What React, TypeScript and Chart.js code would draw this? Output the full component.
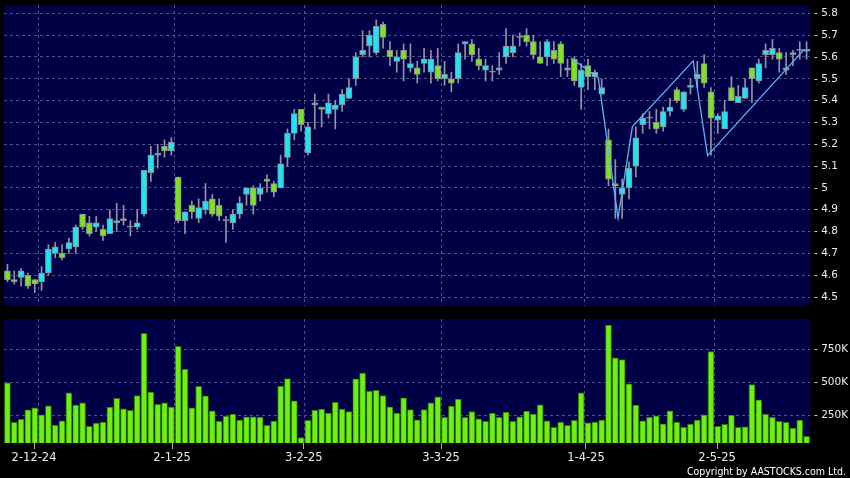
import React, { useEffect, useRef } from 'react';
import { Chart, registerables } from 'chart.js';

Chart.register(...registerables);

// ---- Data (daily candles, 25-11-24 .. 22-5-25) ----
const OPEN = [
  4.62, 4.58, 4.59, 4.60, 4.58, 4.57, 4.61, 4.70, 4.70, 4.72,
  4.73, 4.88, 4.84, 4.82, 4.81, 4.79, 4.84, 4.85, 4.82, 4.82,
  4.88, 5.07, 5.15, 5.19, 5.17, 5.05, 4.85, 4.92, 4.86, 4.90,
  4.95, 4.92, 4.85, 4.84, 4.88, 4.97, 5.00, 4.97, 5.04, 5.02,
  5.00, 5.14, 5.25, 5.36, 5.16, 5.38, 5.37, 5.34, 5.36, 5.38,
  5.41, 5.50, 5.61, 5.65, 5.62, 5.75, 5.63, 5.58, 5.63, 5.55,
  5.55, 5.57, 5.53, 5.56, 5.50, 5.50, 5.50, 5.66, 5.66, 5.59,
  5.54, 5.53, 5.54, 5.60, 5.62, 5.69, 5.70, 5.67, 5.60, 5.60,
  5.63, 5.66, 5.55, 5.59, 5.46, 5.56, 5.51, 5.43, 5.22, 5.02,
  4.97, 5.00, 5.10, 5.29, 5.32, 5.30, 5.28, 5.35, 5.45, 5.36,
  5.46, 5.50, 5.57, 5.44, 5.31, 5.27, 5.46, 5.39, 5.41, 5.55,
  5.49, 5.61, 5.61, 5.62, 5.54, 5.61, 5.63, 5.63,
];
const HIGH = [
  4.65, 4.62, 4.63, 4.61, 4.58, 4.64, 4.74, 4.75, 4.74, 4.77,
  4.83, 4.88, 4.87, 4.87, 4.83, 4.90, 4.93, 4.92, 4.85, 4.90,
  5.08, 5.19, 5.20, 5.22, 5.23, 5.05, 4.89, 4.94, 4.95, 5.02,
  4.97, 4.95, 4.87, 4.90, 4.96, 5.00, 5.01, 5.02, 5.06, 5.03,
  5.15, 5.27, 5.36, 5.36, 5.30, 5.43, 5.37, 5.43, 5.40, 5.45,
  5.50, 5.62, 5.72, 5.72, 5.77, 5.76, 5.67, 5.63, 5.66, 5.66,
  5.58, 5.64, 5.63, 5.64, 5.58, 5.53, 5.66, 5.67, 5.68, 5.64,
  5.59, 5.56, 5.62, 5.73, 5.70, 5.71, 5.73, 5.70, 5.67, 5.68,
  5.67, 5.67, 5.59, 5.60, 5.57, 5.59, 5.54, 5.50, 5.27, 5.13,
  5.04, 5.12, 5.28, 5.34, 5.35, 5.36, 5.37, 5.41, 5.46, 5.44,
  5.50, 5.58, 5.61, 5.46, 5.34, 5.40, 5.51, 5.47, 5.50, 5.55,
  5.59, 5.66, 5.68, 5.64, 5.62, 5.63, 5.67, 5.67,
];
const LOW = [
  4.57, 4.56, 4.55, 4.54, 4.52, 4.53, 4.60, 4.68, 4.67, 4.70,
  4.70, 4.81, 4.78, 4.80, 4.76, 4.79, 4.80, 4.83, 4.78, 4.81,
  4.87, 5.03, 5.09, 5.14, 5.15, 4.84, 4.79, 4.86, 4.84, 4.88,
  4.87, 4.85, 4.75, 4.81, 4.86, 4.92, 4.88, 4.94, 4.98, 4.96,
  5.00, 5.10, 5.22, 5.26, 5.15, 5.27, 5.28, 5.32, 5.27, 5.35,
  5.41, 5.47, 5.60, 5.60, 5.61, 5.64, 5.56, 5.53, 5.49, 5.53,
  5.48, 5.53, 5.48, 5.49, 5.47, 5.44, 5.48, 5.59, 5.58, 5.54,
  5.49, 5.49, 5.52, 5.57, 5.60, 5.65, 5.65, 5.59, 5.57, 5.56,
  5.57, 5.51, 5.51, 5.47, 5.36, 5.45, 5.45, 5.43, 5.01, 4.86,
  4.86, 4.95, 5.05, 5.25, 5.27, 5.25, 5.26, 5.33, 5.39, 5.35,
  5.43, 5.46, 5.46, 5.15, 5.25, 5.27, 5.40, 5.39, 5.41, 5.39,
  5.48, 5.55, 5.59, 5.53, 5.52, 5.56, 5.59, 5.59,
];
const CLOSE = [
  4.58, 4.57, 4.62, 4.55, 4.56, 4.61, 4.72, 4.73, 4.68, 4.75,
  4.82, 4.82, 4.79, 4.84, 4.78, 4.86, 4.85, 4.86, 4.82, 4.84,
  5.08, 5.15, 5.16, 5.17, 5.21, 4.85, 4.89, 4.89, 4.91, 4.94,
  4.88, 4.87, 4.85, 4.88, 4.93, 5.00, 4.92, 5.00, 5.03, 4.98,
  5.11, 5.25, 5.34, 5.29, 5.28, 5.39, 5.36, 5.39, 5.38, 5.43,
  5.46, 5.60, 5.63, 5.70, 5.74, 5.69, 5.60, 5.60, 5.59, 5.57,
  5.52, 5.59, 5.59, 5.50, 5.52, 5.48, 5.62, 5.67, 5.61, 5.56,
  5.56, 5.53, 5.55, 5.65, 5.65, 5.69, 5.67, 5.61, 5.57, 5.67,
  5.59, 5.57, 5.54, 5.49, 5.54, 5.51, 5.53, 5.46, 5.04, 5.01,
  5.00, 5.09, 5.23, 5.32, 5.32, 5.27, 5.35, 5.37, 5.40, 5.44,
  5.47, 5.52, 5.48, 5.32, 5.33, 5.35, 5.40, 5.42, 5.46, 5.50,
  5.57, 5.63, 5.64, 5.59, 5.55, 5.62, 5.63, 5.63,
];
const VOLUME = [
  497000, 200000, 222000, 295000, 310000, 257000, 325000, 180000, 212000, 422000,
  330000, 347000, 170000, 195000, 202000, 315000, 380000, 302000, 290000, 402000,
  870000, 427000, 335000, 347000, 315000, 772000, 600000, 310000, 470000, 400000,
  287000, 207000, 247000, 262000, 217000, 242000, 242000, 240000, 177000, 210000,
  472000, 530000, 362000, 85000, 215000, 292000, 300000, 270000, 350000, 300000,
  282000, 527000, 570000, 435000, 440000, 402000, 317000, 270000, 385000, 297000,
  220000, 297000, 347000, 392000, 237000, 322000, 375000, 237000, 282000, 227000,
  207000, 270000, 237000, 277000, 207000, 242000, 285000, 262000, 332000, 212000,
  162000, 202000, 177000, 215000, 422000, 197000, 202000, 217000, 932000, 685000,
  672000, 490000, 330000, 212000, 237000, 250000, 190000, 287000, 202000, 162000,
  187000, 217000, 257000, 732000, 170000, 185000, 255000, 162000, 167000, 485000,
  370000, 262000, 237000, 207000, 200000, 157000, 217000, 95000,
];

// zig-zag pattern line (x in candle index units)
const ZIGZAG_X = [82.5, 86.5, 89.4, 91.5, 100.4, 102.5, 116.5, 117.5];
const ZIGZAG_Y = [5.595, 5.505, 4.862, 5.281, 5.582, 5.148, 5.629, 5.629];

const PRICE_TICKS = [4.5, 4.6, 4.7, 4.8, 4.9, 5.0, 5.1, 5.2, 5.3, 5.4, 5.5, 5.6, 5.7, 5.8];
const VOLUME_TICKS = [250000, 500000, 750000];
const MONTH_GRID = [4.5, 24.5, 43.5, 63.5, 84.5, 103.5];
const DATE_LABELS = ['2-12-24', '2-1-25', '3-2-25', '3-3-25', '1-4-25', '2-5-25'];
const DATE_LABEL_POS = [3.9, 24.1, 43.4, 63.5, 84.7, 103.9];

// ---- Styles ----
const NAVY = '#000046';
const GRID = '#52528a';
const CYAN = '#20e4f0';
const GREEN = '#80e024';
const GRAY = '#9292a2';
const TEXT = '#ececec';

const bgPlugin = {
  id: 'plotBg',
  beforeDraw(chart: any) {
    const { ctx, chartArea: a } = chart;
    ctx.save();
    ctx.fillStyle = NAVY;
    ctx.fillRect(a.left, a.top, a.right - a.left, a.bottom - a.top);
    ctx.restore();
  },
};

const fmtPrice = (v: number) => String(Number(v.toFixed(1)));

const noPad = (s: any) => {
  s.paddingTop = 0;
  s.paddingBottom = 0;
  s.paddingLeft = 0;
  s.paddingRight = 0;
};

export default function App() {
  const priceRef = useRef<HTMLCanvasElement>(null);
  const volRef = useRef<HTMLCanvasElement>(null);

  useEffect(() => {
    const n = OPEN.length;
    const idx = Array.from({ length: n }, (_, i) => i);
    const bodyColors = idx.map((i) =>
      CLOSE[i] > OPEN[i] ? CYAN : CLOSE[i] < OPEN[i] ? GREEN : GRAY
    );

    const xBase = {
      type: 'linear' as const,
      min: -0.5,
      max: n - 0.5,
      offset: false,
      afterBuildTicks: (s: any) => {
        s.ticks = MONTH_GRID.map((v) => ({ value: v }));
      },
      ticks: { display: false },
      grid: { color: GRID, lineWidth: 1, drawTicks: false, offset: false },
      border: { display: false, dash: [3, 3] },
    };

    const pc = new Chart(priceRef.current!, {
      type: 'bar',
      data: {
        datasets: [
          {
            type: 'line',
            data: ZIGZAG_X.map((x, i) => ({ x, y: ZIGZAG_Y[i] })),
            borderColor: '#5cb6f2',
            borderWidth: 1.3,
            pointRadius: 0,
            tension: 0,
            order: 0,
          } as any,
          {
            data: idx.map((i) => ({ x: i, y: [OPEN[i], CLOSE[i]] })),
            backgroundColor: bodyColors,
            borderColor: '#8a8c9a',
            borderWidth: 1,
            borderSkipped: false,
            barThickness: 6,
            minBarLength: 1,
            grouped: false,
            order: 1,
          } as any,
          {
            data: idx.map((i) => ({ x: i, y: [LOW[i], HIGH[i]] })),
            backgroundColor: GRAY,
            borderWidth: 0,
            barThickness: 1,
            grouped: false,
            order: 2,
          } as any,
        ],
      },
      options: {
        responsive: false,
        animation: false,
        devicePixelRatio: 1,
        layout: { padding: { left: 4, top: 5, right: 0, bottom: 0 } },
        plugins: { legend: { display: false }, tooltip: { enabled: false } },
        scales: {
          x: { ...xBase, afterFit: (s: any) => { s.height = 4; noPad(s); } } as any,
          y: {
            position: 'right',
            min: 4.459,
            max: 5.838,
            afterBuildTicks: (s: any) => {
              s.ticks = PRICE_TICKS.map((v) => ({ value: v }));
            },
            afterFit: (s: any) => { s.width = 40; noPad(s); },
            ticks: {
              color: TEXT,
              padding: 4,
              font: { family: 'DejaVu Sans', size: 10.5 },
              callback: (v: any) => '- ' + fmtPrice(Number(v)),
            },
            grid: { color: GRID, lineWidth: 1, drawTicks: false },
            border: { display: false, dash: [3, 3] },
          } as any,
        },
      },
      plugins: [bgPlugin],
    });

    const vc = new Chart(volRef.current!, {
      type: 'bar',
      data: {
        datasets: [
          {
            data: idx.map((i) => ({ x: i, y: VOLUME[i] })),
            backgroundColor: '#6ef012',
            borderColor: '#2f7600',
            borderWidth: 1,
            borderSkipped: false,
            barThickness: 6,
            grouped: false,
          } as any,
        ],
      },
      options: {
        responsive: false,
        animation: false,
        devicePixelRatio: 1,
        layout: { padding: { left: 4, top: 9, right: 0, bottom: 0 } },
        plugins: { legend: { display: false }, tooltip: { enabled: false } },
        scales: {
          x: { ...xBase, afterFit: (s: any) => { s.height = 0; noPad(s); } } as any,
          xl: {
            type: 'linear',
            position: 'bottom',
            min: -0.5,
            max: n - 0.5,
            offset: false,
            afterBuildTicks: (s: any) => {
              s.ticks = DATE_LABEL_POS.map((v) => ({ value: v }));
            },
            afterFit: (s: any) => { s.height = 35; noPad(s); },
            ticks: {
              color: TEXT,
              padding: 2,
              autoSkip: false,
              maxRotation: 0,
              font: { family: 'DejaVu Sans', size: 11.5 },
              callback: (_v: any, i: number) => DATE_LABELS[i],
            },
            grid: {
              drawOnChartArea: false,
              drawTicks: true,
              offset: false,
              tickLength: 6,
              tickColor: '#b0b0b0',
              tickWidth: 1,
            },
            border: { display: false },
          } as any,
          y: {
            position: 'right',
            min: 45000,
            max: 977000,
            afterBuildTicks: (s: any) => {
              s.ticks = VOLUME_TICKS.map((v) => ({ value: v }));
            },
            afterFit: (s: any) => { s.width = 40; noPad(s); },
            ticks: {
              color: TEXT,
              padding: 4,
              font: { family: 'DejaVu Sans', size: 10.5 },
              callback: (v: any) => '- ' + Number(v) / 1000 + 'K',
            },
            grid: { color: GRID, lineWidth: 1, drawTicks: false },
            border: { display: false, dash: [3, 3] },
          } as any,
        },
      },
      plugins: [bgPlugin],
    });

    return () => {
      pc.destroy();
      vc.destroy();
    };
  }, []);

  return (
    <div
      style={{
        position: 'fixed',
        left: 0,
        top: 0,
        width: 850,
        height: 478,
        background: '#000',
        overflow: 'hidden',
      }}
    >
      <canvas ref={priceRef} width={850} height={310} style={{ position: 'absolute', left: 0, top: 0 }} />
      <canvas ref={volRef} width={850} height={168} style={{ position: 'absolute', left: 0, top: 310 }} />
      <div
        style={{
          position: 'absolute',
          right: 4,
          top: 465,
          color: '#ffffff',
          font: "10.5px 'DejaVu Sans Condensed', 'Liberation Sans', sans-serif",
          lineHeight: '13px',
          whiteSpace: 'nowrap',
        }}
      >
        Copyright by AASTOCKS.com Ltd.
      </div>
    </div>
  );
}
